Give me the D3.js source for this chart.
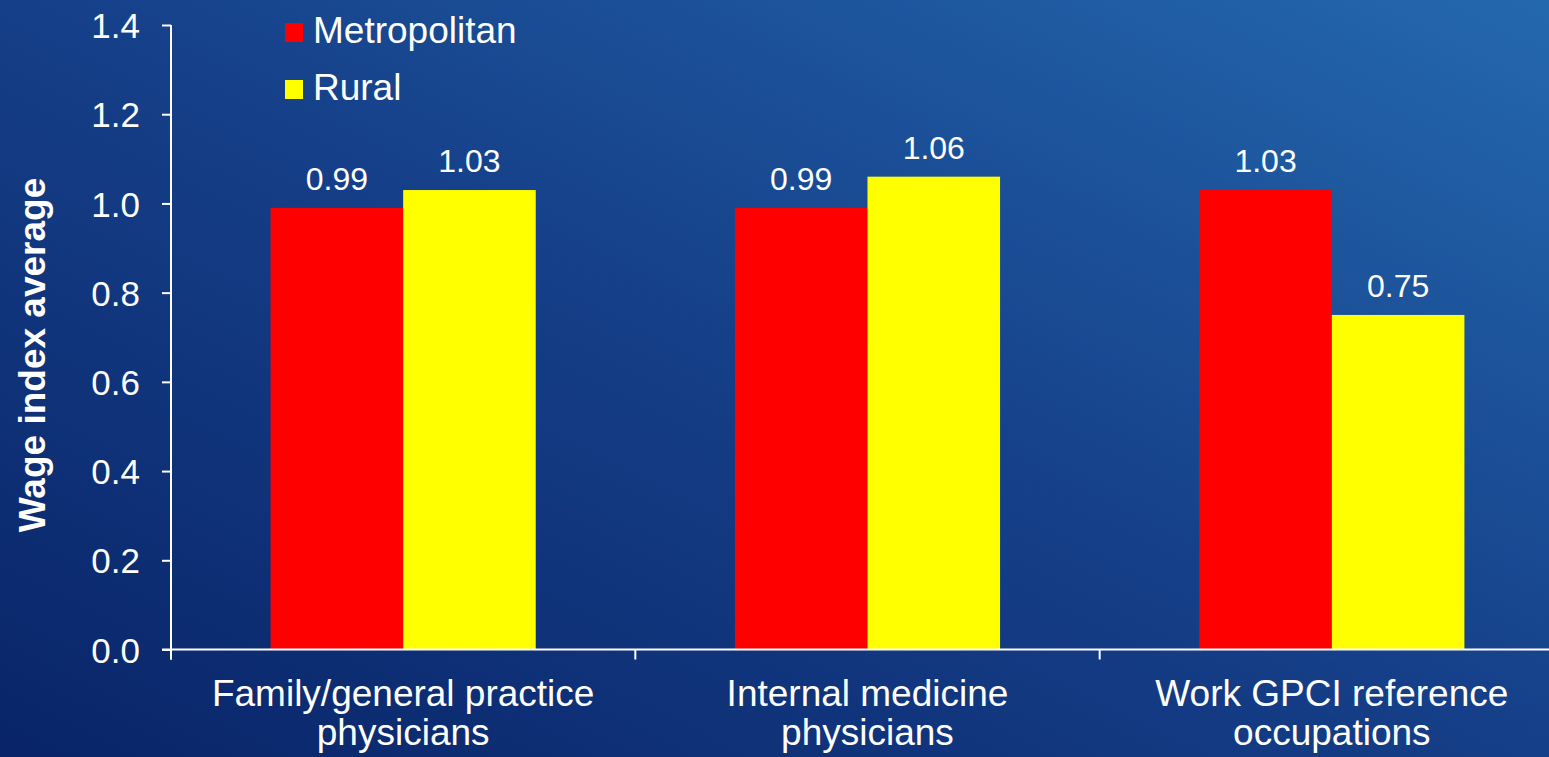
<!DOCTYPE html>
<html>
<head>
<meta charset="utf-8">
<script src="https://cdn.jsdelivr.net/npm/d3@7"></script>
<style>
  html, body { margin: 0; padding: 0; overflow: hidden; }
  svg { display: block; }
  text { font-family: "Liberation Sans", Arial, Helvetica, sans-serif; fill: #ffffff; }
</style>
</head>
<body>
<svg id="chart" width="1549" height="757"></svg>
<script>
// Wage index averages by occupation group and area type
const categories = [
  ["Family/general practice", "physicians"],
  ["Internal medicine", "physicians"],
  ["Work GPCI reference", "occupations"]
];
const seriesNames = ["Metropolitan", "Rural"];
const metropolitan = [0.99, 0.99, 1.03];
const rural = [1.03, 1.06, 0.75];
const yTicks = [0, 0.2, 0.4, 0.6, 0.8, 1.0, 1.2, 1.4];
const yTitle = "Wage index average";
const seriesColors = ["#ff0000", "#ffff00"];

const W = 1549, H = 757;
const svg = d3.select("#chart");

// background
const defs = svg.append("defs");
const grad = defs.append("linearGradient")
  .attr("id", "bg").attr("x1", "0").attr("y1", "1").attr("x2", "1").attr("y2", "0");
grad.append("stop").attr("offset", "0").attr("stop-color", "#092468");
grad.append("stop").attr("offset", "0.5").attr("stop-color", "#153f88");
grad.append("stop").attr("offset", "1").attr("stop-color", "#2468ae");
svg.append("rect").attr("width", W).attr("height", H).attr("fill", "url(#bg)");

// plot frame
const plotLeft = 171, plotRight = 1564, plotTop = 25, plotBottom = 649.5;

const catKeys = categories.map(c => c.join(" "));
const x0 = d3.scaleBand().domain(catKeys).range([plotLeft, plotRight]).paddingInner(0).paddingOuter(0);
const bw = x0.bandwidth();
const gap = bw * 0.2145;
const x1 = d3.scaleBand().domain(seriesNames).range([gap, bw - gap]).padding(0);
const y = d3.scaleLinear().domain([0, 1.4]).range([plotBottom, plotTop]);

const rows = catKeys.map((k, i) => ({
  key: k,
  values: [
    { name: seriesNames[0], value: metropolitan[i] },
    { name: seriesNames[1], value: rural[i] }
  ]
}));
const color = d3.scaleOrdinal().domain(seriesNames).range(seriesColors);

// bars
const groups = svg.append("g").selectAll("g").data(rows).join("g")
  .attr("transform", d => `translate(${x0(d.key)},0)`);

groups.selectAll("rect").data(d => d.values).join("rect")
  .attr("x", d => x1(d.name))
  .attr("y", d => y(d.value))
  .attr("width", x1.bandwidth())
  .attr("height", d => y(0) - y(d.value))
  .attr("fill", d => color(d.name));

// value labels
groups.selectAll("text.val").data(d => d.values).join("text")
  .attr("class", "val")
  .attr("x", d => x1(d.name) + x1.bandwidth() / 2)
  .attr("y", d => y(d.value) - 18)
  .attr("text-anchor", "middle")
  .style("font-size", "32px")
  .text(d => d3.format(".2f")(d.value));

// y axis
const yAxis = svg.append("g")
  .attr("transform", `translate(${plotLeft},0)`)
  .call(d3.axisLeft(y).tickValues(yTicks).tickFormat(d3.format(".1f")).tickSize(9).tickPadding(22));
yAxis.select(".domain").attr("stroke", "#fff").attr("stroke-width", 2)
  .attr("d", `M0,${plotTop}V${plotBottom + 10}`);
yAxis.selectAll(".tick line").attr("stroke", "#fff").attr("stroke-width", 2);
yAxis.selectAll(".tick text").style("font-size", "35px").attr("fill", "#fff").attr("dy", "0.36em");

// x axis
const xAxis = svg.append("g")
  .attr("transform", `translate(0,${plotBottom})`);
xAxis.append("line")
  .attr("x1", plotLeft - 9).attr("x2", W + 20)
  .attr("stroke", "#fff").attr("stroke-width", 2);
const boundaries = catKeys.map(k => x0(k)).concat([plotRight]);
xAxis.selectAll("line.tk").data(boundaries).join("line")
  .attr("class", "tk")
  .attr("x1", d => d).attr("x2", d => d)
  .attr("y1", 0).attr("y2", 10)
  .attr("stroke", "#fff").attr("stroke-width", 2);

// category labels (two lines)
const catLabels = svg.append("g").selectAll("text").data(categories).join("text")
  .attr("x", (d, i) => x0(catKeys[i]) + bw / 2)
  .attr("y", 706)
  .attr("text-anchor", "middle")
  .style("font-size", "37px");
catLabels.selectAll("tspan").data(d => d).join("tspan")
  .attr("x", function () { return d3.select(this.parentNode).attr("x"); })
  .attr("dy", (d, i) => i === 0 ? 0 : 39)
  .text(d => d);

// y axis title
svg.append("text")
  .attr("transform", `translate(45,355) rotate(-90)`)
  .attr("text-anchor", "middle")
  .style("font-size", "37px")
  .style("font-weight", "bold")
  .text(yTitle);

// legend
const legend = svg.append("g").selectAll("g").data(seriesNames).join("g")
  .attr("transform", (d, i) => `translate(285,${23 + i * 57})`);
legend.append("rect")
  .attr("width", 18).attr("height", 19)
  .attr("fill", d => color(d));
legend.append("text")
  .attr("x", 28).attr("y", 20)
  .style("font-size", "37px")
  .text(d => d);
</script>
</body>
</html>
